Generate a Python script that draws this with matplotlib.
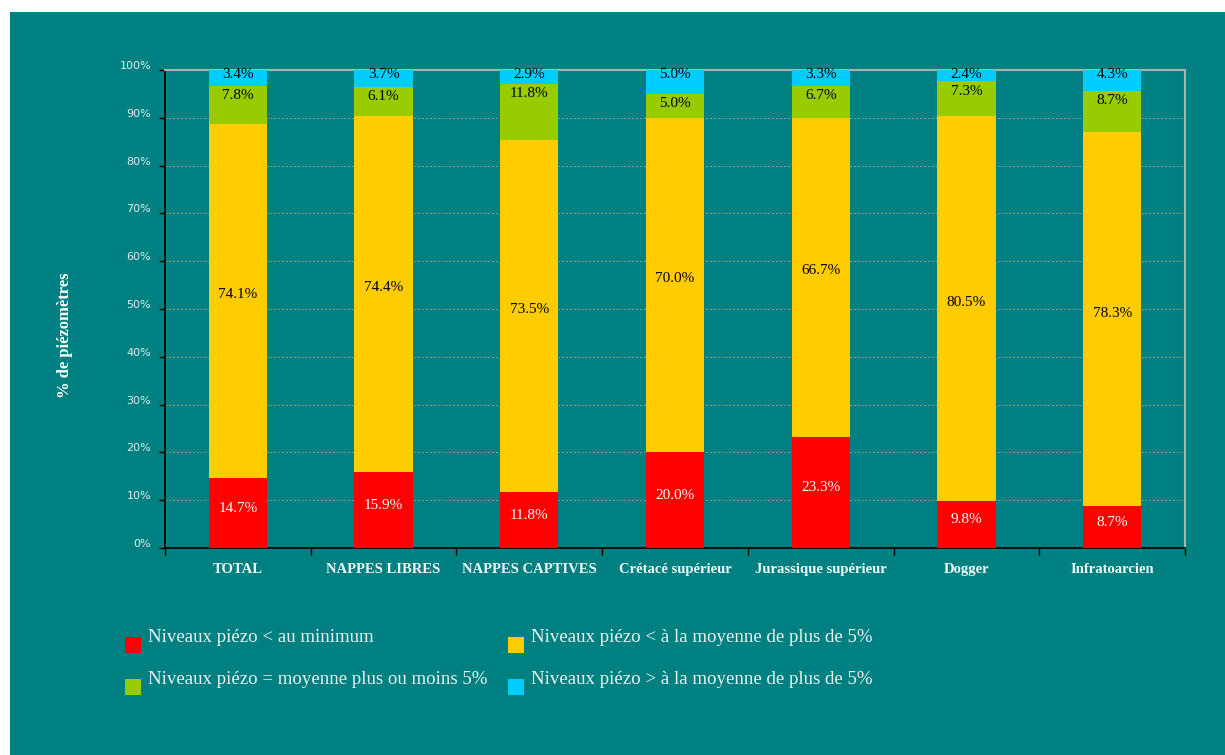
import matplotlib
matplotlib.use("Agg")
import matplotlib.pyplot as plt
import matplotlib.transforms as mtransforms
from matplotlib.patches import Rectangle
import numpy as np

categories = ["TOTAL", "NAPPES LIBRES", "NAPPES CAPTIVES", "Crétacé supérieur",
              "Jurassique supérieur", "Dogger", "Infratoarcien"]
red_vals = [14.7, 15.9, 11.8, 20.0, 23.3, 9.8, 8.7]
yellow_vals = [74.1, 74.4, 73.5, 70.0, 66.7, 80.5, 78.3]
green_vals = [7.8, 6.1, 11.8, 5.0, 6.7, 7.3, 8.7]
blue_vals = [3.4, 3.7, 2.9, 5.0, 3.3, 2.4, 4.3]
series_names = ["Niveaux piézo < au minimum",
                "Niveaux piézo < à la moyenne de plus de 5%",
                "Niveaux piézo = moyenne plus ou moins 5%",
                "Niveaux piézo > à la moyenne de plus de 5%"]
yticks = [0, 10, 20, 30, 40, 50, 60, 70, 80, 90, 100]

TEAL = "#008080"
colors = {"red": "#FF0000", "yellow": "#FFCC00", "green": "#99CC00", "blue": "#00CCFF"}
plt.rcParams["font.family"] = ["Liberation Serif", "DejaVu Serif"]

W, H = 1225, 755
fig = plt.figure(figsize=(W / 100, H / 100), dpi=100, facecolor="white")
fig.patches.append(Rectangle((10 / W, 0), 1 - 10 / W, 1 - 12 / H, transform=fig.transFigure,
                             facecolor=TEAL, edgecolor="none", zorder=-10))

ax = fig.add_axes([165 / W, 1 - 548 / H, 1020 / W, 478 / H])
ax.set_facecolor(TEAL)

x = np.arange(len(categories))
bw = 0.4
red = np.array(red_vals)
yel = np.array(yellow_vals)
grn = np.array(green_vals)
blu = np.array(blue_vals)

ax.bar(x, red, bw, color=colors["red"], zorder=3)
ax.bar(x, yel, bw, bottom=red, color=colors["yellow"], zorder=3)
ax.bar(x, grn, bw, bottom=red + yel, color=colors["green"], zorder=3)
ax.bar(x, blu, bw, bottom=red + yel + grn, color=colors["blue"], zorder=3)

for i in range(len(x)):
    ax.text(x[i], red[i] / 2 + 1.0, f"{red[i]:.1f}%", ha="center", va="center",
            color="white", fontsize=11, zorder=4)
    ax.text(x[i], red[i] + yel[i] / 2 + 1.3, f"{yel[i]:.1f}%", ha="center", va="center",
            color="black", fontsize=11, zorder=4)
    gb = red[i] + yel[i]
    ax.text(x[i], gb + grn[i] - 2.0, f"{grn[i]:.1f}%", ha="center", va="center",
            color="black", fontsize=11, zorder=4)
    ax.text(x[i], 99.0, f"{blu[i]:.1f}%", ha="center", va="center",
            color="black", fontsize=11, zorder=4)

ax.set_xlim(-0.5, len(x) - 0.5)
ax.set_ylim(0, 100)
ax.set_yticks(yticks)
ax.set_yticklabels([f"{t}%" for t in yticks], fontsize=8, color="#DDEEEE",
                   family=["DejaVu Sans"])
ax.tick_params(axis="y", length=4, width=1, color="black", pad=6)
offset = mtransforms.ScaledTranslation(0, 5 / 100, fig.dpi_scale_trans)
for lbl in ax.get_yticklabels():
    lbl.set_transform(lbl.get_transform() + offset)
ax.set_xticks(x)
ax.set_xticklabels(categories, fontsize=10.5, fontweight="bold", color="#F0F8F8")
ax.tick_params(axis="x", which="major", length=0, pad=11)
ax.set_xticks(np.arange(-0.5, len(x)), minor=True)
ax.tick_params(axis="x", which="minor", length=5, width=1, color="black", direction="out")

ax.grid(axis="y", color="#999999", linestyle=(0, (2, 2)), linewidth=0.7, zorder=1)
for s in ["top", "right"]:
    ax.spines[s].set_color("#B0B0B0")
    ax.spines[s].set_linewidth(1.5)
ax.spines["left"].set_color("black")
ax.spines["bottom"].set_color("black")
ax.spines["left"].set_linewidth(1.2)
ax.spines["bottom"].set_linewidth(1.2)

fig.text(65 / W, 1 - 335 / H, "% de piézomètres", rotation=90, ha="center", va="center",
         color="white", fontsize=12, fontweight="bold")

# legend
leg_items = [(125, 637, colors["red"], series_names[0]),
             (508, 637, colors["yellow"], series_names[1]),
             (125, 679, colors["green"], series_names[2]),
             (508, 679, colors["blue"], series_names[3])]
for px, py, c, lab in leg_items:
    fig.patches.append(Rectangle((px / W, 1 - (py + 16) / H), 16 / W, 16 / H,
                                 transform=fig.transFigure, facecolor=c, edgecolor="none", zorder=2))
    fig.text((px + 23) / W, 1 - (py + 1) / H, lab, ha="left", va="center",
             color="#E8F4F4", fontsize=13.6)

fig.savefig("out.png", dpi=100, facecolor="white")
